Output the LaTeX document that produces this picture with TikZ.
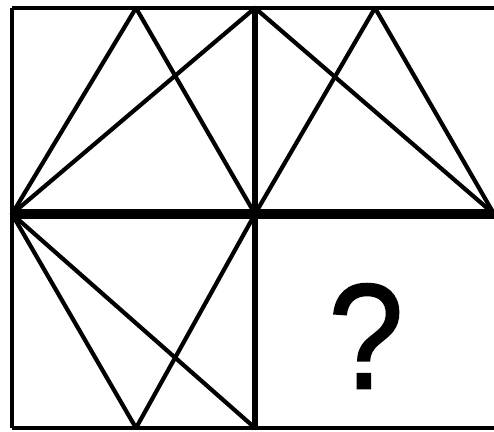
\documentclass[tikz,border=0pt]{standalone}
\usepackage{fontspec}
\setmainfont{Liberation Sans}
\newfontfamily\qmarkfont[FakeBold=1.2]{Liberation Sans}
\usepackage{tikz}

\begin{document}
\begin{tikzpicture}[
  x=1pt, y=-1pt,
  frame/.style={line width=4pt},
  divider/.style={line width=10pt},
  stroke/.style={line width=4.2pt, line cap=round, line join=round}
]
  \useasboundingbox (0,0) rectangle (494,431);
  % grid points
  \coordinate (tl) at (12,8);
  \coordinate (tm) at (255,8);
  \coordinate (tr) at (494,8);
  \coordinate (ml) at (12,214);
  \coordinate (mm) at (255,214);
  \coordinate (mr) at (494,214);
  \coordinate (bl) at (12,428);
  \coordinate (bm) at (255,428);
  \coordinate (br) at (494,428);
  \coordinate (ta) at (136,8);
  \coordinate (tb) at (375,8);
  \coordinate (ba) at (136,428);
  % frame
  \draw[frame] (tl) -- (tr);
  \draw[frame] (bl) -- (br);
  \draw[frame] (tl) -- (bl);
  \draw[line width=6pt] (tm) -- (bm);
  \draw[divider] (ml) -- (mr);
  % top left
  \draw[stroke] (ml) -- (ta) -- (mm);
  \draw[stroke] (ml) -- (tm);
  % top right
  \draw[stroke] (mm) -- (tb) -- (mr);
  \draw[stroke] (tm) -- (mr);
  % bottom left
  \draw[stroke] (ml) -- (ba) -- (mm);
  \draw[stroke] (ml) -- (bm);
  % missing cell
  \node[font=\qmarkfont\fontsize{150}{150}\selectfont, inner sep=0pt, xscale=0.9] (q) at (366,336) {?};
\end{tikzpicture}
\end{document}
